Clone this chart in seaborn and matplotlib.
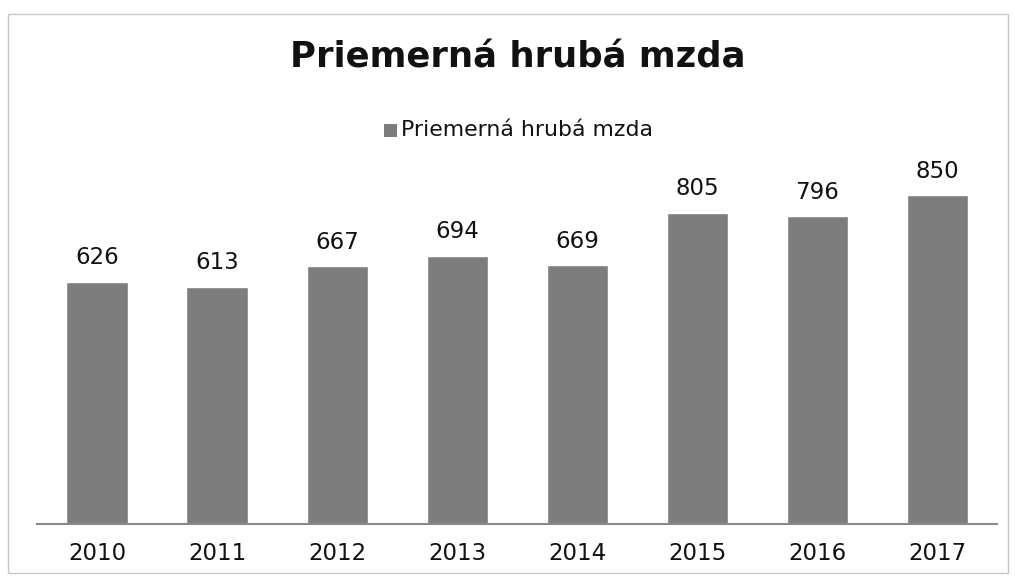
import matplotlib
matplotlib.use("Agg")
import matplotlib.pyplot as plt
import seaborn as sns
import pandas as pd
from matplotlib.patches import Rectangle

years = ["2010", "2011", "2012", "2013", "2014", "2015", "2016", "2017"]
wages = [626, 613, 667, 694, 669, 805, 796, 850]
series_name = "Priemerná hrubá mzda"
title = "Priemerná hrubá mzda"

df = pd.DataFrame({"rok": years, "mzda": wages, "séria": series_name})

sns.set_theme(style="white")
plt.rcParams["font.family"] = ["DejaVu Sans"]

fig = plt.figure(figsize=(10.15, 5.8), dpi=100)
ax = fig.add_axes([0.0365, 0.0966, 0.946, 0.64])

bar_color = "#7d7d7d"
sns.barplot(data=df, x="rok", y="mzda", hue="séria", palette=[bar_color],
            width=0.51, ax=ax, legend=False, saturation=1)

for c in ax.containers:
    ax.bar_label(c, labels=[str(v) for v in wages], padding=9, fontsize=16.5, color="#111111")

ax.set_xlim(-0.5, 7.5)
ax.set_ylim(0, 960)
ax.set_xlabel("")
ax.set_ylabel("")
ax.set_yticks([])
for s in ["top", "right", "left"]:
    ax.spines[s].set_visible(False)
ax.spines["bottom"].set_color("#8a8a8a")
ax.spines["bottom"].set_linewidth(1.5)
ax.tick_params(axis="x", length=0, pad=13, labelsize=16.5, labelcolor="#111111")

fig.text(0.51, 0.90, title, ha="center", va="center", fontsize=25.5,
         fontweight="bold", color="#111111")

# legend
fig.patches.append(Rectangle((384 / 1015, 1 - 137 / 580), 13 / 1015, 13 / 580,
                             transform=fig.transFigure, facecolor=bar_color,
                             edgecolor="none"))
fig.text(401 / 1015, 1 - 130 / 580, series_name, ha="left", va="center",
         fontsize=15.8, color="#111111")

# outer frame
fig.patches.append(Rectangle((8 / 1015, 7 / 580), 1000 / 1015, 559 / 580,
                             transform=fig.transFigure, facecolor="none",
                             edgecolor="#c8c8c8", linewidth=1))

fig.savefig("out.png", dpi=100)
